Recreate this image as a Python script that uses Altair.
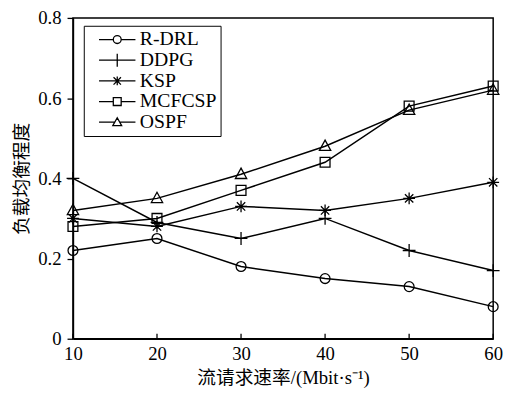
import altair as alt
import pandas as pd

x_vals = [10, 20, 30, 40, 50, 60]
series_names = ["R-DRL", "DDPG", "KSP", "MCFCSP", "OSPF"]
r_drl = [0.22, 0.25, 0.18, 0.15, 0.13, 0.08]
ddpg = [0.40, 0.29, 0.25, 0.30, 0.22, 0.17]
ksp = [0.30, 0.28, 0.33, 0.32, 0.35, 0.39]
mcfcsp = [0.28, 0.30, 0.37, 0.44, 0.58, 0.63]
ospf = [0.32, 0.35, 0.41, 0.48, 0.57, 0.62]
x_ticks = [10, 20, 30, 40, 50, 60]
y_ticks = [0, 0.2, 0.4, 0.6, 0.8]

all_series = [r_drl, ddpg, ksp, mcfcsp, ospf]
rows = []
for name, vals in zip(series_names, all_series):
    for xv, yv in zip(x_vals, vals):
        rows.append({"x": xv, "y": yv, "series": name})
df = pd.DataFrame(rows)
tick_df = pd.DataFrame({"t": x_ticks})

FONT = "Liberation Serif, Noto Sans CJK SC"

marker_paths = [
    "circle",
    "M-1.3,0H1.3M0,-1.3V1.3",
    "M-1.2,0H1.2M0,-1.2V1.2M-0.85,-0.85L0.85,0.85M-0.85,0.85L0.85,-0.85",
    "square",
    "M0,-1.25L1.15,0.85H-1.15Z",
]
legend_paths = [
    "M-3.7,0H-0.8M0.8,0H3.7M-0.8,0A0.8,0.8,0,1,0,0.8,0A0.8,0.8,0,1,0,-0.8,0",
    "M-3.7,0H3.7M0,-1.3V1.3",
    "M-3.7,0H3.7M0,-0.9V0.9M-0.75,-0.75L0.75,0.75M-0.75,0.75L0.75,-0.75",
    "M-3.7,0H-0.8M0.8,0H3.7M-0.8,-0.8H0.8V0.8H-0.8Z",
    "M-3.7,0H-0.5M0.5,0H3.7M0,-0.9L0.9,0.7H-0.9Z",
]

xscale = alt.Scale(domain=[10, 60], nice=False)
yscale = alt.Scale(domain=[0, 0.8], nice=False)

xenc = alt.X("x:Q", scale=xscale, axis=alt.Axis(
    values=x_ticks, ticks=False, title="流请求速率/(Mbit·s⁻¹)", format="d",
    labelFlush=False, labelPadding=6, titlePadding=5))
yenc = alt.Y("y:Q", scale=yscale, axis=alt.Axis(
    values=y_ticks, tickSize=6, title="负载均衡程度", labelFlush=False,
    labelExpr="datum.value == 0 ? '0' : format(datum.value, '.1f')",
    labelPadding=6, titlePadding=6))

lines = alt.Chart(df).mark_line(color="black", strokeWidth=1.5).encode(
    x=xenc, y=yenc, detail="series:N")

points = alt.Chart(df).mark_point(filled=False, color="black", size=100,
                                  strokeWidth=1.3, opacity=1).encode(
    x="x:Q", y="y:Q",
    shape=alt.Shape("series:N", scale=alt.Scale(domain=series_names, range=marker_paths),
                    legend=None))

legend_layer = alt.Chart(df).transform_filter("datum.y < -1").mark_point(
    filled=False, color="black", strokeWidth=1.3).encode(
    x="x:Q", y="y:Q",
    shape=alt.Shape("series:N", scale=alt.Scale(domain=series_names, range=legend_paths),
                    legend=alt.Legend(
                        title=None, orient="none", legendX=11, legendY=8,
                        symbolSize=100, symbolStrokeColor="black", symbolStrokeWidth=1.3,
                        symbolOpacity=1, symbolFillColor="transparent",
                        labelFont=FONT, labelFontSize=20, labelColor="black",
                        symbolOffset=20, labelOffset=13, rowPadding=1,
                        padding=4, strokeColor="black", fillColor="white")))

ticks = alt.Chart(tick_df).mark_rule(color="black", strokeWidth=1.3).encode(
    x=alt.X("t:Q", scale=xscale), y=alt.value(326), y2=alt.value(321))

chart = alt.layer(lines, ticks, points, legend_layer).resolve_scale(
    shape="independent"
).properties(
    width=427, height=326, autosize="none",
    padding={"left": 66, "top": 7, "right": 11, "bottom": 48},
).configure_view(stroke="black", strokeWidth=1.5).configure_axis(
    labelFont=FONT, labelFontSize=19, labelColor="black",
    titleFont=FONT, titleFontSize=19, titleColor="black", titleFontWeight="normal",
    domainColor="black", domainWidth=1.5, tickColor="black", tickWidth=1.3,
    grid=False,
)

chart.save("out.html", embed_options={"renderer": "svg", "actions": False})
